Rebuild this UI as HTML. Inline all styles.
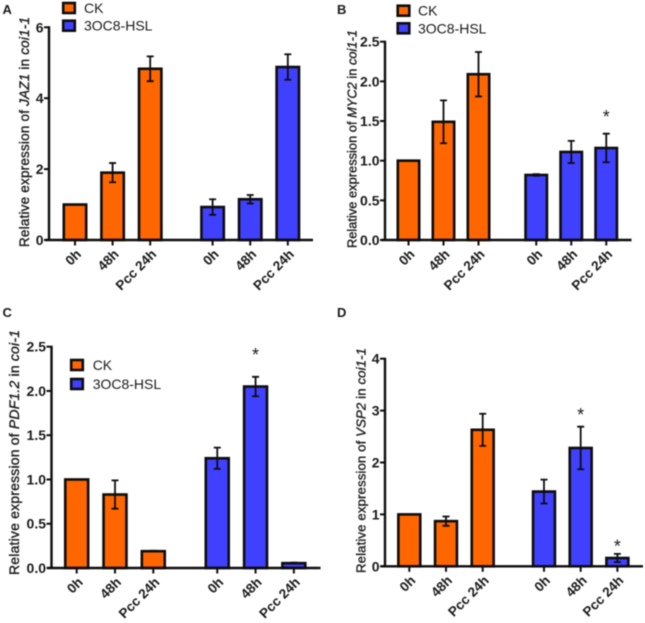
<!DOCTYPE html>
<html>
<head>
<meta charset="utf-8">
<style>
html,body{margin:0;padding:0;background:#fff;width:645px;height:623px;overflow:hidden}
svg{display:block;filter:blur(0.45px)}
text{font-family:"Liberation Sans",sans-serif;fill:#1a1a1a}
</style>
</head>
<body>
<svg id="figure" width="645" height="623" viewBox="0 0 645 623" xmlns="http://www.w3.org/2000/svg"></svg>
<script>
const categories = ['0h', '48h', 'Pcc 24h', '0h', '48h', 'Pcc 24h'];
const seriesNames = ['CK', '3OC8-HSL'];

const valuesA = [1, 1.9, 4.83, 0.93, 1.15, 4.88];
const errorsA = [0, 0.27, 0.35, 0.22, 0.12, 0.36];
const starsA = [null, null, null, null, null, null];
const ticksA = ['0', '2', '4', '6'];

const valuesB = [1, 1.49, 2.09, 0.82, 1.11, 1.16];
const errorsB = [0, 0.27, 0.28, 0.01, 0.14, 0.18];
const starsB = [null, null, null, null, null, 1.6];
const ticksB = ['0.0', '0.5', '1.0', '1.5', '2.0', '2.5'];

const valuesC = [1, 0.83, 0.19, 1.24, 2.05, 0.055];
const errorsC = [0, 0.16, 0.005, 0.12, 0.11, 0.005];
const starsC = [null, null, null, null, 2.45, null];
const ticksC = ['0.0', '0.5', '1.0', '1.5', '2.0', '2.5'];

const valuesD = [1, 0.87, 2.63, 1.44, 2.28, 0.16];
const errorsD = [0, 0.09, 0.31, 0.23, 0.41, 0.08];
const starsD = [null, null, null, null, 2.99, 0.455];
const ticksD = ['0', '1', '2', '3', '4'];

const COLORS = ['#ff6600', '#4040ff'];
const INK = '#0d0d0d';
const STROKE = 2.6;
const svg = document.getElementById('figure');
const NS = 'http://www.w3.org/2000/svg';

function make(parent, tag, attrs) {
  const node = document.createElementNS(NS, tag);
  for (const k in attrs) node.setAttribute(k, attrs[k]);
  parent.appendChild(node);
  return node;
}

function drawPanel(p) {
  const key = p.letter.toLowerCase();
  const maxTick = parseFloat(p.ticks[p.ticks.length - 1]);
  const minTick = parseFloat(p.ticks[0]);
  const y = v => p.y0 - (v - minTick) / (maxTick - minTick) * (p.y0 - p.yTop);
  const x = i => p.xStart + p.step * (i + (i >= 3 ? p.gap : 0));

  const g = make(svg, 'g', {});
  
  

  const letter = make(g, 'text', {x: p.letterX, y: p.letterY, 'font-size': 13, 'font-weight': 'bold', fill: '#000'});
  letter.textContent = p.letter;
  
  

  // bars and error bars
  p.values.forEach((v, i) => {
    const cx = x(i), top = y(v), base = y(minTick);
    const bar = make(g, 'rect', {
      x: cx - p.barW / 2 + STROKE / 2, y: top, width: p.barW - STROKE, height: Math.max(0, base - top),
      fill: COLORS[i < 3 ? 0 : 1], stroke: INK, 'stroke-width': STROKE
    });
    
    

    const e = p.errors[i];
    if (e > 0) {
      const hi = y(v + e), lo = y(v - e);
      const err = make(g, 'path', {
        d: 'M' + cx + ' ' + hi + 'V' + lo + 'M' + (cx - 3.5) + ' ' + hi + 'H' + (cx + 3.5) + 'M' + (cx - 3.5) + ' ' + lo + 'H' + (cx + 3.5),
        fill: 'none', stroke: INK, 'stroke-width': 1.8
      });
      
      
    }

    if (p.stars[i] !== null) {
      const star = make(g, 'text', {x: cx, y: y(p.stars[i]) + 10, 'font-size': 18, 'text-anchor': 'middle', fill: '#333'});
      star.textContent = '*';
      
      
    }
  });

  // axes
  const yAxis = make(g, 'line', {x1: p.axisX, x2: p.axisX, y1: p.yTop - 1, y2: p.y0 + 1, stroke: INK, 'stroke-width': 2.4});
  
  
  const xAxis = make(g, 'line', {x1: p.axisX - 4, x2: p.xEnd, y1: p.y0, y2: p.y0, stroke: INK, 'stroke-width': 2.4});
  
  

  p.ticks.forEach(label => {
    const ty = y(parseFloat(label));
    const tick = make(g, 'line', {x1: p.axisX - 5, x2: p.axisX, y1: ty, y2: ty, stroke: INK, 'stroke-width': 2});
    
    
    const t = make(g, 'text', {x: p.axisX - 5.5, y: ty + 5, 'font-size': 14, 'font-weight': 'bold', 'text-anchor': 'end'});
    t.textContent = label;
    
    
  });

  categories.forEach((label, i) => {
    const cx = x(i);
    const tick = make(g, 'line', {x1: cx, x2: cx, y1: p.y0, y2: p.y0 + 5.5, stroke: INK, 'stroke-width': 2});
    
    
    const ax = cx + 7, ay = p.y0 + 15;
    const t = make(g, 'text', {x: ax, y: ay, 'font-size': 13.5, 'font-weight': 'bold', 'text-anchor': 'end', transform: 'rotate(-45 ' + ax + ' ' + ay + ')'});
    t.textContent = label;
    
    
  });

  // y-axis title
  const title = make(g, 'text', {
    transform: 'translate(' + p.titleX + ' ' + p.titleBottom + ') rotate(-90)',
    'font-size': p.titleSize, stroke: '#1a1a1a', 'stroke-width': 0.35,
    textLength: p.titleLen, lengthAdjust: 'spacing'
  });
  p.title.forEach(part => {
    const span = make(title, 'tspan', part[1] ? {'font-style': 'italic'} : {});
    span.textContent = part[0];
  });
  
  

  // legend
  if (p.legend) {
    seriesNames.forEach((name, i) => {
      const ly = p.legend.y[i];
      const entry = make(g, 'g', {});
      
      
      const sw = make(entry, 'rect', {x: p.legend.x + 1.2, y: ly - 5, width: 11.6, height: 10, fill: COLORS[i], stroke: INK, 'stroke-width': STROKE});
      
      
      const t = make(entry, 'text', {x: p.legend.textX, y: ly + 5, 'font-size': 14});
      t.textContent = name;
      
      
    });
  }
}

drawPanel({
  letter: 'A', letterX: 2.5, letterY: 14,
  values: valuesA, errors: errorsA, stars: starsA, ticks: ticksA,
  axisX: 49, xEnd: 313, y0: 240, yTop: 27.3,
  xStart: 75, step: 37.6, gap: 0.66, barW: 25,
  title: [['Relative expression of ', false], ['JAZ1', true], [' in ', false], ['coi1-1', true]],
  titleX: 29, titleBottom: 247, titleLen: 230, titleSize: 13.5,
  legend: {x: 62, textX: 84, y: [8, 25.7]}
});

drawPanel({
  letter: 'B', letterX: 337, letterY: 14,
  values: valuesB, errors: errorsB, stars: starsB, ticks: ticksB,
  axisX: 385, xEnd: 631.5, y0: 240, yTop: 41.7,
  xStart: 408.5, step: 35, gap: 0.65, barW: 24,
  title: [['Relative expression of ', false], ['MYC2', true], [' in ', false], ['coi1-1', true]],
  titleX: 356.5, titleBottom: 248, titleLen: 218, titleSize: 12.8,
  legend: {x: 396.5, textX: 418, y: [10.7, 28.3]}
});

drawPanel({
  letter: 'C', letterX: 2.5, letterY: 317,
  values: valuesC, errors: errorsC, stars: starsC, ticks: ticksC,
  axisX: 51.5, xEnd: 320.5, y0: 568, yTop: 346.7,
  xStart: 76.7, step: 38.3, gap: 0.67, barW: 25.5,
  title: [['Relative expression of ', false], ['PDF1.2', true], [' in ', false], ['coi-1', true]],
  titleX: 19, titleBottom: 575, titleLen: 245, titleSize: 14,
  legend: {x: 70, textX: 92.7, y: [365, 384]}
});

drawPanel({
  letter: 'D', letterX: 337, letterY: 317,
  values: valuesD, errors: errorsD, stars: starsD, ticks: ticksD,
  axisX: 385, xEnd: 643, y0: 566.3, yTop: 358.7,
  xStart: 409.3, step: 36.7, gap: 0.67, barW: 24.5,
  title: [['Relative expression of ', false], ['VSP2', true], [' in ', false], ['coi1-1', true]],
  titleX: 365.5, titleBottom: 573, titleLen: 225, titleSize: 13.2,
  legend: null
});
</script>
</body>
</html>
